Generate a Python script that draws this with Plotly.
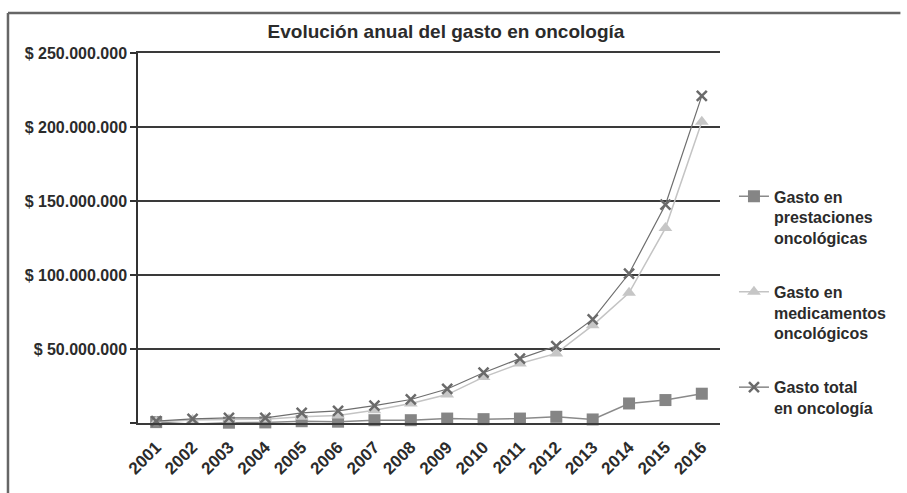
import plotly.graph_objects as go

# Annual oncology spending, 2001-2016 (pesos)
years = ["2001", "2002", "2003", "2004", "2005", "2006", "2007", "2008",
         "2009", "2010", "2011", "2012", "2013", "2014", "2015", "2016"]

gasto_prestaciones = [0.6e6, -0.8e6, 0.2e6, 0.4e6, 1.2e6, 0.9e6, 1.9e6, 1.9e6,
                      3.0e6, 2.6e6, 3.0e6, 4.2e6, 2.4e6, 13.2e6, 15.5e6, 19.8e6]
gasto_medicamentos = [0.8e6, 2.0e6, 2.4e6, 2.5e6, 4.2e6, 5.0e6, 8.6e6, 13.2e6,
                      19.2e6, 31.0e6, 40.2e6, 47.0e6, 66.0e6, 88.0e6, 131.7e6, 203.5e6]
gasto_total = [1.2e6, 2.8e6, 3.5e6, 3.5e6, 6.9e6, 8.2e6, 11.8e6, 15.9e6,
               23.0e6, 34.0e6, 43.5e6, 52.0e6, 70.0e6, 101.0e6, 147.5e6, 221.0e6]

y_tickvals = [0, 50e6, 100e6, 150e6, 200e6, 250e6]
y_ticktext = ["", "$ 50.000.000", "$ 100.000.000", "$ 150.000.000",
              "$ 200.000.000", "$ 250.000.000"]

series_names = ["Gasto en<br>prestaciones<br>oncológicas",
                "Gasto en<br>medicamentos<br>oncológicos",
                "Gasto total<br>en oncología"]

FONT = "Liberation Sans, Arial, sans-serif"
TEXT = "#2b2b2b"
GRID = "#3a3a3a"

fig = go.Figure()

fig.add_trace(go.Scatter(
    x=years, y=gasto_prestaciones, name=series_names[0], legendgroup="a",
    mode="lines+markers", cliponaxis=False,
    line=dict(color="#8a8a8a", width=1.5),
    marker=dict(symbol="square", size=12, color="#858585"),
))
fig.add_trace(go.Scatter(
    x=years, y=gasto_medicamentos, name=series_names[1], legendgroup="b",
    mode="lines+markers", cliponaxis=False,
    line=dict(color="#c4c4c4", width=1.5),
    marker=dict(symbol="triangle-up", size=12, color="#c6c6c6"),
))
fig.add_trace(go.Scatter(
    x=years, y=gasto_total, name=series_names[2], legendgroup="c",
    mode="lines+markers", cliponaxis=False,
    line=dict(color="#6e6e6e", width=1.2),
    marker=dict(symbol="x-thin", size=10, color="#6a6a6a",
                line=dict(width=2.5, color="#6a6a6a")),
))

fig.update_layout(
    width=907, height=493,
    margin=dict(l=138, r=187, t=53, b=70),
    paper_bgcolor="white", plot_bgcolor="white",
    font=dict(family=FONT, color=TEXT, weight="bold"),
    title=dict(text="Evolución anual del gasto en oncología",
               x=0.4917, xanchor="center", xref="container",
               y=1 - 31 / 493, yanchor="middle", yref="container",
               font=dict(size=19, color=TEXT, family=FONT, weight="bold")),
    showlegend=True,
    legend=dict(x=1.024, xanchor="left", y=0.6585, yanchor="top",
                valign="top", tracegroupgap=30,
                font=dict(size=16, color=TEXT, family=FONT, weight="bold"),
                bgcolor="rgba(0,0,0,0)", borderwidth=0),
    xaxis=dict(type="category", range=[-0.5, 15.5], showgrid=False,
               zeroline=False, showline=True, mirror=True,
               linecolor=GRID, linewidth=1.5, ticks="", tickangle=-45,
               ticklabelstandoff=6,
               tickfont=dict(size=17, color=TEXT, family=FONT, weight="bold")),
    yaxis=dict(range=[0, 250e6], tickvals=y_tickvals, ticktext=y_ticktext,
               showgrid=True, gridcolor=GRID, gridwidth=1.5,
               zeroline=False, showline=True, linecolor="#333333",
               linewidth=1.5, ticks="outside", ticklen=6,
               tickcolor="#333333", tickwidth=1.5,
               tickfont=dict(size=16, color=TEXT, family=FONT, weight="bold")),
    shapes=[
        # outer frame: left edge and top edge
        dict(type="line", xref="paper", yref="paper",
             x0=-0.2234, x1=-0.2234, y0=-0.25, y1=1.1079,
             line=dict(color="#666666", width=2.5)),
        dict(type="line", xref="paper", yref="paper",
             x0=-0.2234, x1=1.31, y0=1.1079, y1=1.1079,
             line=dict(color="#666666", width=2.5)),
    ],
)

fig.write_html("out.html", config={"displayModeBar": False})
